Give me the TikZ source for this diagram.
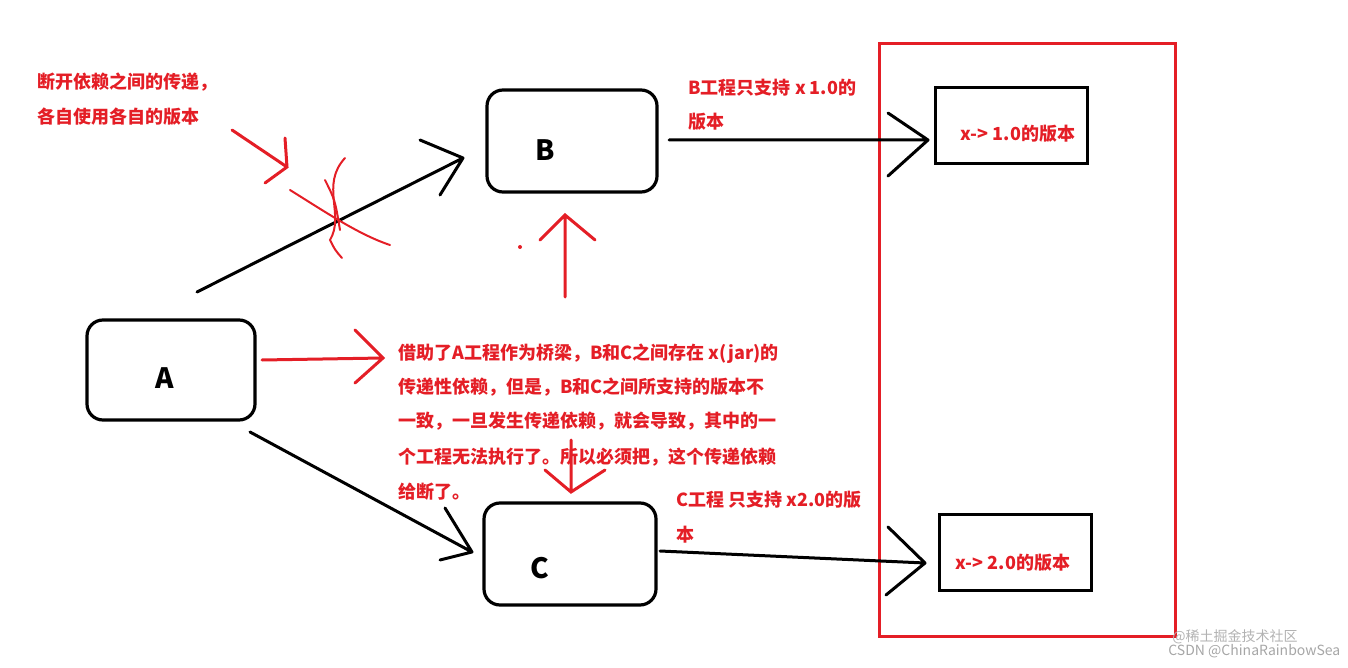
\documentclass[tikz,border=0pt]{standalone}
\usepackage{fontspec}
\setmainfont{Noto Sans CJK SC}
\definecolor{myred}{RGB}{228,30,38}
\begin{document}
\begin{tikzpicture}[x=0.5pt,y=-0.5pt,
  box/.style={draw,line width=1.6pt,rounded corners=8pt,inner sep=0},
  sq/.style={draw,line width=1.5pt,inner sep=0},
  blk/.style={line width=1.5pt,line cap=round,line join=round},
  red/.style={draw=myred,line width=1.5pt,line cap=round},
  rt/.style={text=myred,font=\bfseries\fontsize{9}{10}\selectfont,anchor=west,inner sep=0},
  big/.style={font=\bfseries\fontsize{14}{16}\selectfont}]
\useasboundingbox (0,0) rectangle (1348,668);
% nodes
\node[box,minimum width=84pt,minimum height=50pt] (A) at (171,370) {};
\node[big] at (165,378) {A};
\node[box,minimum width=85pt,minimum height=51pt] (B) at (572,141) {};
\node[big] at (545,150) {B};
\node[box,minimum width=86pt,minimum height=51pt] (C) at (570,554) {};
\node[big] at (540,568) {C};
\node[draw=myred,line width=1.5pt,minimum width=148pt,minimum height=296pt,inner sep=0] (R) at (1027,340) {};
\node[sq,minimum width=76pt,minimum height=38pt] (X1) at (1011,126) {};
\node[sq,minimum width=76pt,minimum height=38pt] (X2) at (1015,552) {};
% black arrows
\coordinate (a1) at (197,292); \coordinate (b1) at (463,158);
\draw[blk] (a1) -- (b1) (420,140) -- (b1) -- (440,195);
\coordinate (b2) at (669,140); \coordinate (x1) at (928,140);
\draw[blk] (b2) -- (x1) (888,113) -- (x1) -- (888,176);
\coordinate (c2) at (660,551); \coordinate (x2) at (925,563);
\draw[blk] (c2) -- (x2) (888,527) -- (x2) -- (886,595);
\coordinate (a2) at (250,432); \coordinate (c1) at (472,552);
\draw[blk] (a2) -- (c1) (445,508) -- (c1) -- (440,560);
% red arrows
\draw[red] (262,360) -- (383,358) (355,330) -- (383,358) -- (355,383);
\draw[red] (565,297) -- (565,215) (540,240) -- (565,215) -- (595,240);
\draw[red] (571,440) -- (571,492) (545,470) -- (571,492) -- (605,470);
\draw[red] (232,130) -- (287,167) (265,183) -- (287,167) -- (285,138);
% scribble
\draw[red,line width=1pt] (290,190) .. controls (330,215) and (360,235) .. (390,245);
\draw[red,line width=1pt] (345,158) .. controls (320,185) and (345,215) .. (330,240) .. controls (335,250) .. (342,258);
\draw[red,line width=1pt] (325,180) .. controls (335,200) .. (340,230);
\fill[myred] (520,247) circle (2);
% texts
\node[rt] at (37,82) {断开依赖之间的传递，};
\node[rt] at (37,117) {各自使用各自的版本};
\node[rt] at (688,88) {B工程只支持 x 1.0的};
\node[rt] at (688,122) {版本};
\node[rt] at (960,134) {x-> 1.0的版本};
\node[rt] at (398,354) {借助了A工程作为桥梁，B和C之间存在 x(jar)的};
\node[rt] at (398,387) {传递性依赖，但是，B和C之间所支持的版本不};
\node[rt] at (398,421) {一致，一旦发生传递依赖，就会导致，其中的一};
\node[rt] at (398,457) {个工程无法执行了。所以必须把，这个传递依赖};
\node[rt] at (398,492) {给断了。};
\node[rt] at (676,500) {C工程 只支持 x2.0的版};
\node[rt] at (676,535) {本};
\node[rt] at (955,563) {x-> 2.0的版本};
\node[text=gray!60,font=\fontsize{7}{9}\selectfont,anchor=west,inner sep=0] at (1172,637) {@稀土掘金技术社区};
\node[text=gray!70,font=\fontsize{7}{9}\selectfont,anchor=west,inner sep=0] at (1168,651) {CSDN @ChinaRainbowSea};
\end{tikzpicture}
\end{document}
